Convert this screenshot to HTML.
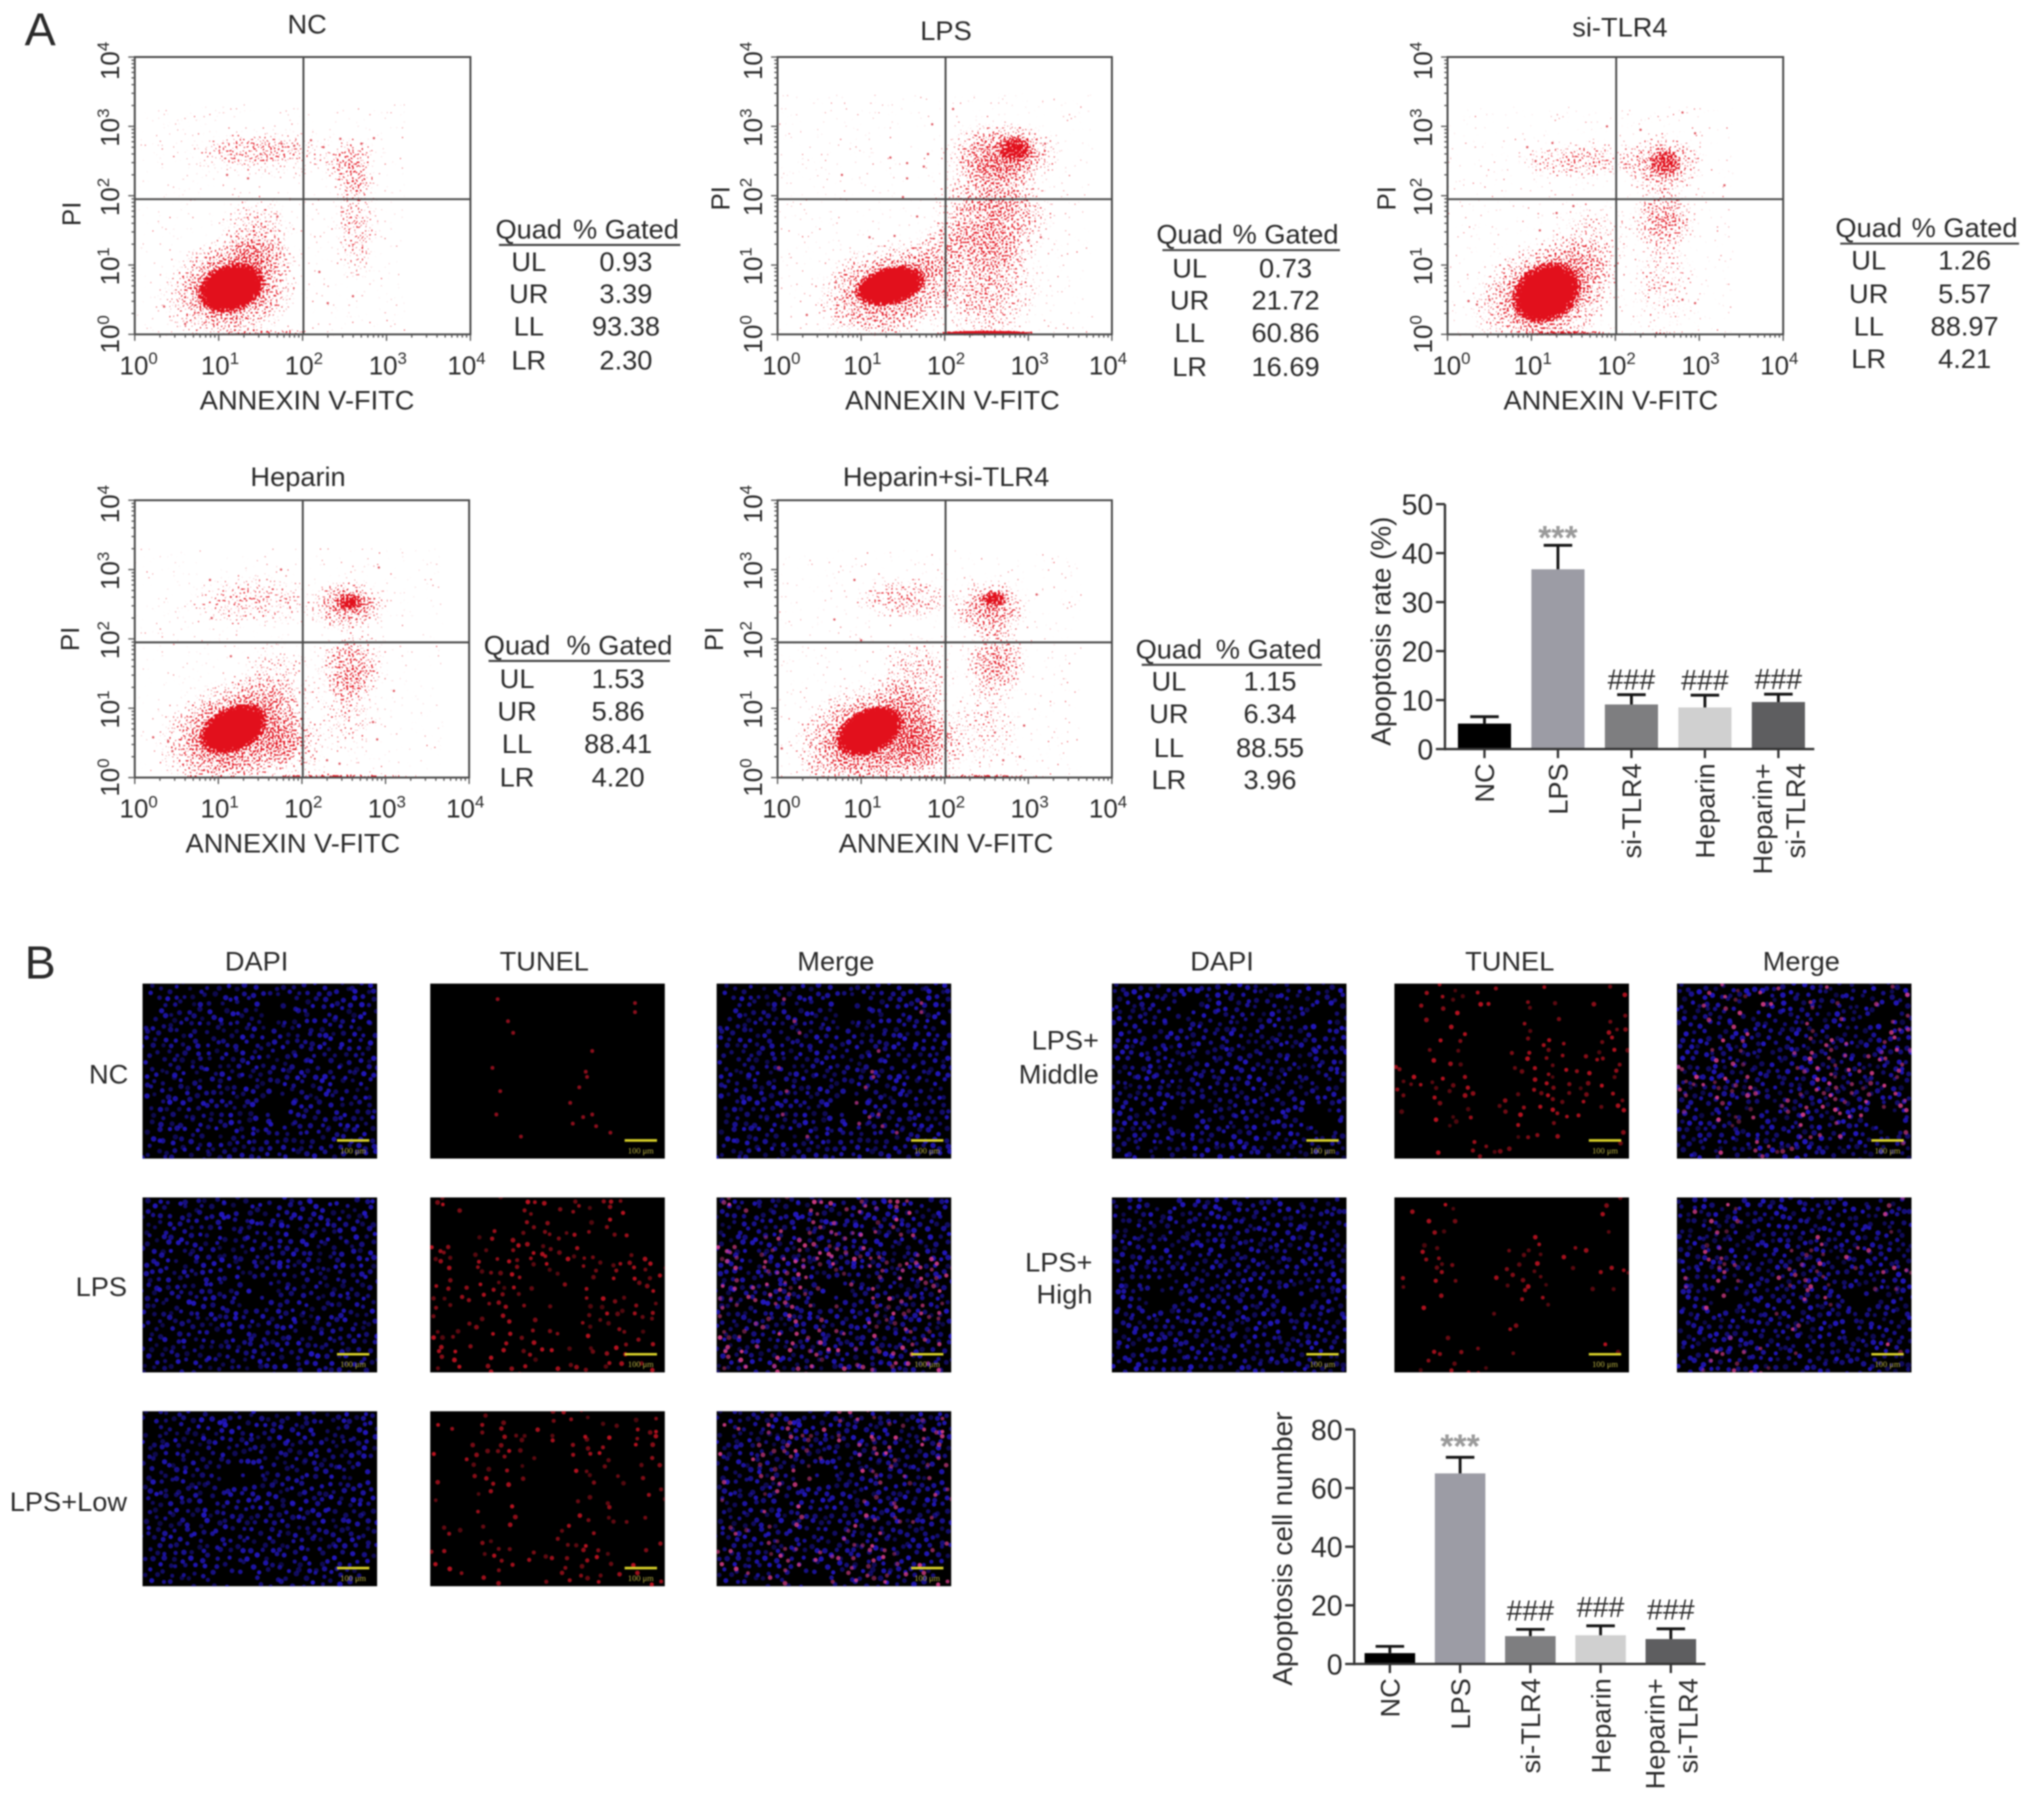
<!DOCTYPE html>
<html lang="en">
<head>
<meta charset="utf-8">
<title>Apoptosis flow cytometry and TUNEL figure</title>
<style>
html,body{margin:0;padding:0;background:#fff;}
svg{display:block;filter:blur(.7px);}
text{font-family:"Liberation Sans",sans-serif;fill:#2a2a2a;}
</style>
</head>
<body>
<svg id="figure" xmlns="http://www.w3.org/2000/svg" width="2032" height="1802" viewBox="0 0 1568 1390.5">
<defs>
<radialGradient id="cloudFade"><stop offset="0" stop-color="#000" stop-opacity="1"/><stop offset=".5" stop-color="#000" stop-opacity=".7"/><stop offset="1" stop-color="#000" stop-opacity="0"/></radialGradient>
<radialGradient id="coreFade"><stop offset="0" stop-color="#000" stop-opacity="1"/><stop offset=".72" stop-color="#000" stop-opacity="1"/><stop offset="1" stop-color="#000" stop-opacity=".2"/></radialGradient>
<filter id="speckle" x="-10%" y="-10%" width="120%" height="120%" color-interpolation-filters="sRGB">
<feTurbulence type="fractalNoise" baseFrequency=".68" numOctaves="1" seed="7" result="n"/>
<feColorMatrix in="n" type="matrix" values="0 0 0 0 0 0 0 0 0 0 0 0 0 0 0 0 0 0 1.8 -.42" result="na"/>
<feComposite in="na" in2="SourceAlpha" operator="arithmetic" k1="0" k2="1" k3="1" k4="0"/>
<feComponentTransfer result="mask"><feFuncA type="linear" slope="12" intercept="-11"/></feComponentTransfer>
<feFlood flood-color="#e2101c"/>
<feComposite in2="mask" operator="in"/>
</filter>
</defs>

<text x="31" y="35" font-size="36" text-anchor="middle">A</text>
<text x="31" y="755" font-size="36" text-anchor="middle">B</text>

<g id="flow-layer"></g>

<g font-size="21" text-anchor="middle">
<text x="237" y="26">NC</text>
<text x="730" y="31">LPS</text>
<text x="1250" y="28">si-TLR4</text>
<text x="230" y="375">Heparin</text>
<text x="730" y="375">Heparin+si-TLR4</text>
</g>

<g font-size="21" text-anchor="middle">
<text x="408" y="184">Quad</text><text x="483" y="184">% Gated</text>
<line x1="385" y1="189" x2="525" y2="189" stroke="#444" stroke-width="1.6"/>
<text x="408" y="209">UL</text><text x="483" y="209">0.93</text>
<text x="408" y="234">UR</text><text x="483" y="234">3.39</text>
<text x="408" y="259">LL</text><text x="483" y="259">93.38</text>
<text x="408" y="285">LR</text><text x="483" y="285">2.30</text>
</g>
<g font-size="21" text-anchor="middle">
<text x="918" y="188">Quad</text><text x="992" y="188">% Gated</text>
<line x1="897" y1="193" x2="1034" y2="193" stroke="#444" stroke-width="1.6"/>
<text x="918" y="214">UL</text><text x="992" y="214">0.73</text>
<text x="918" y="239">UR</text><text x="992" y="239">21.72</text>
<text x="918" y="264">LL</text><text x="992" y="264">60.86</text>
<text x="918" y="290">LR</text><text x="992" y="290">16.69</text>
</g>
<g font-size="21" text-anchor="middle">
<text x="1442" y="183">Quad</text><text x="1516" y="183">% Gated</text>
<line x1="1420" y1="188" x2="1558" y2="188" stroke="#444" stroke-width="1.6"/>
<text x="1442" y="208">UL</text><text x="1516" y="208">1.26</text>
<text x="1442" y="234">UR</text><text x="1516" y="234">5.57</text>
<text x="1442" y="259">LL</text><text x="1516" y="259">88.97</text>
<text x="1442" y="284">LR</text><text x="1516" y="284">4.21</text>
</g>
<g font-size="21" text-anchor="middle">
<text x="399" y="505">Quad</text><text x="478" y="505">% Gated</text>
<line x1="377" y1="510" x2="517" y2="510" stroke="#444" stroke-width="1.6"/>
<text x="399" y="531">UL</text><text x="477" y="531">1.53</text>
<text x="399" y="556">UR</text><text x="477" y="556">5.86</text>
<text x="399" y="581">LL</text><text x="477" y="581">88.41</text>
<text x="399" y="607">LR</text><text x="477" y="607">4.20</text>
</g>
<g font-size="21" text-anchor="middle">
<text x="902" y="508">Quad</text><text x="979" y="508">% Gated</text>
<line x1="881" y1="513" x2="1020" y2="513" stroke="#444" stroke-width="1.6"/>
<text x="902" y="533">UL</text><text x="980" y="533">1.15</text>
<text x="902" y="558">UR</text><text x="980" y="558">6.34</text>
<text x="902" y="584">LL</text><text x="980" y="584">88.55</text>
<text x="902" y="609">LR</text><text x="980" y="609">3.96</text>
</g>

<g id="bar-layer"></g>

<g font-size="21.5" text-anchor="middle">
<text transform="translate(1073,487) rotate(-90)">Apoptosis rate (%)</text>
<text transform="translate(997,1195) rotate(-90)">Apoptosis cell number</text>
</g>

<g font-size="21" text-anchor="middle">
<text x="198" y="749">DAPI</text>
<text x="420" y="749">TUNEL</text>
<text x="645" y="749">Merge</text>
<text x="943" y="749">DAPI</text>
<text x="1165" y="749">TUNEL</text>
<text x="1390" y="749">Merge</text>
</g>
<g font-size="21" text-anchor="end">
<text x="99" y="836">NC</text>
<text x="98" y="1000">LPS</text>
<text x="98" y="1166">LPS+Low</text>
<text x="848" y="810">LPS+</text>
<text x="848" y="836">Middle</text>
<text x="843" y="981">LPS+</text>
<text x="843" y="1006">High</text>
</g>

<g id="image-layer"></g>

<script>
/* ---------- Flow cytometry values, in log10 decades ---------- */
const flowExponents = [0, 1, 2, 3, 4];
const minorDecadeFactors = [2, 3, 4, 5, 6, 7, 8, 9];
const gateLogX = 2.01;
const gateLogY = 1.95;

const ncPopX = [1.15, 1.15, 1.62, 2.59, 1.47, 2.64, 1.47, 1.6];
const ncPopY = [0.67, 0.67, 0.03, 2.42, 2.67, 1.6, 1.4, 2.6];
const ncPopRx = [0.36, 0.72, 0.9, 0.27, 0.6, 0.24, 0.38, 1.0];
const ncPopRy = [0.30, 0.66, 0.04, 0.38, 0.22, 0.75, 0.55, 0.3];
const ncPopTilt = [-20, -15, 0, 0, 0, 0, 0, 0];
const ncPopDensity = [1, .5, .35, .3, .16, .26, .27, .16];
const ncEventX = [1.1, 1.35, 1.5, 1.75, 1.9, 2.1, 2.25, 2.45, 2.7, 2.85, 1.7, 1.85, 2.2, 2.3, 2.6, 0.35, 0.6];
const ncEventY = [2.3, 2.25, 2.6, 2.75, 2.72, 2.8, 2.7, 2.82, 2.75, 2.83, 1.7, 1.95, 0.9, 0.45, 0.55, 0.4, 0.15];

const lpsPopX = [1.35, 1.3, 2.5, 2.85, 2.7, 2.57, 2.49, 1.9];
const lpsPopY = [0.70, 0.62, 0.02, 2.67, 2.62, 1.76, 0.7, 1.2];
const lpsPopRx = [0.38, 0.75, 0.6, 0.18, 0.60, 0.62, 0.58, 0.4];
const lpsPopRy = [0.24, 0.62, 0.035, 0.17, 0.40, 0.75, 0.75, 0.35];
const lpsPopTilt = [-14, -14, 0, 0, 0, 0, 0, -35];
const lpsPopDensity = [1, .46, 1, .7, .46, .4, .3, .24];
const lpsEventX = [0.77, 0.35, 0.7, 1.35, 1.55, 1.75, 1.8, 1.55, 1.5, 1.67, 1.95, 1.85, 2.1, 3.0, 3.15, 3.2, 1.1, 1.4];
const lpsEventY = [2.30, 0.28, 0.75, 2.55, 2.47, 2.42, 2.6, 2.25, 1.98, 1.7, 1.5, 3.03, 3.25, 1.35, 1.4, 2.75, 1.4, 1.42];

const tlrPopX = [1.18, 1.18, 1.45, 2.6, 2.6, 2.55, 1.55, 2.57, 2.55, 1.7];
const tlrPopY = [0.60, 0.58, 0.02, 0.02, 2.48, 2.45, 2.5, 1.66, 0.75, 1.3];
const tlrPopRx = [0.38, 0.78, 0.6, 0.4, 0.18, 0.44, 0.62, 0.34, 0.34, 0.45];
const tlrPopRy = [0.36, 0.66, 0.035, 0.03, 0.18, 0.38, 0.25, 0.42, 0.6, 0.55];
const tlrPopTilt = [-30, -20, 0, 0, 0, 0, 0, 0, 0, 0];
const tlrPopDensity = [1, .5, .6, .35, .5, .38, .28, .38, .2, .2];
const tlrEventX = [0.25, 0.35, 0.5, 0.95, 1.05, 1.25, 1.9, 2.3, 2.8, 2.95, 3.3, 2.8, 2.95, 1.1, 1.3, 1.5];
const tlrEventY = [0.48, 0.43, 0.5, 2.7, 2.5, 2.76, 3.0, 2.95, 3.2, 2.9, 2.15, 0.5, 0.45, 1.5, 1.75, 1.85];

const hepPopX = [1.18, 1.18, 2.4, 2.57, 2.55, 1.41, 2.6, 2.55, 1.7, 1.9];
const hepPopY = [0.70, 0.62, 0.02, 2.53, 2.48, 2.55, 1.6, 0.95, 1.35, 0.45];
const hepPopRx = [0.38, 0.8, 0.95, 0.15, 0.42, 0.68, 0.36, 0.33, 0.45, 0.35];
const hepPopRy = [0.28, 0.68, 0.03, 0.11, 0.34, 0.32, 0.45, 0.55, 0.55, 0.42];
const hepPopTilt = [-25, -20, 0, 0, 0, 0, 0, 0, 0, 0];
const hepPopDensity = [1, .52, .55, .65, .42, .25, .37, .2, .2, .28];
const hepEventX = [0.22, 0.4, 0.45, 0.9, 0.92, 1.15, 1.75, 2.92, 3.1, 2.85, 2.9, 2.3, 2.45];
const hepEventY = [0.58, 0.52, 0.38, 2.85, 2.3, 1.75, 3.0, 3.03, 1.25, 0.8, 0.55, 0.25, 0.2];

const comboPopX = [1.1, 1.12, 2.35, 2.59, 2.55, 1.53, 2.61, 1.65, 2.45, 1.8];
const comboPopY = [0.67, 0.58, 0.02, 2.58, 2.42, 2.58, 1.66, 1.4, 0.75, 0.45];
const comboPopRx = [0.38, 0.82, 0.95, 0.15, 0.40, 0.55, 0.34, 0.42, 0.38, 0.4];
const comboPopRy = [0.28, 0.68, 0.03, 0.10, 0.38, 0.28, 0.45, 0.55, 0.55, 0.45];
const comboPopTilt = [-25, -15, 0, 0, 0, 0, 0, 0, 0, 0];
const comboPopDensity = [1, .52, .55, .72, .42, .28, .38, .26, .18, .3];
const comboEventX = [0.05, 0.38, 0.4, 0.55, 0.68, 1.0, 0.92, 3.1, 2.9, 2.6, 2.95, 2.7];
const comboEventY = [0.42, 0.2, 0.5, 0.3, 2.28, 1.98, 2.85, 2.64, 0.3, 0.65, 0.75, 0.25];

/* ---------- Bar chart values ---------- */
const barCategories = ['NC', 'LPS', 'si-TLR4', 'Heparin', 'Heparin+ si-TLR4'];
const rateTicks = [0, 10, 20, 30, 40, 50];
const rateValues = [5.2, 36.7, 9.1, 8.5, 9.6];
const rateErrors = [1.4, 4.9, 2.0, 2.5, 1.6];
const rateMarkers = ['', '***', '###', '###', '###'];
const cellTicks = [0, 20, 40, 60, 80];
const cellValues = [3.7, 65, 9.5, 9.8, 8.5];
const cellErrors = [2.3, 5.5, 2.3, 3.2, 3.5];
const cellMarkers = ['', '***', '###', '###', '###'];

/* ---------- Drawing ---------- */
const NS = 'http://www.w3.org/2000/svg';
function mk(tag, parent, attrs) {
  const el = document.createElementNS(NS, tag);
  for (const k in attrs) el.setAttribute(k, attrs[k]);
  parent.appendChild(el);
  return el;
}
function named(el, name) {
  
  
  return el;
}
function powerLabel(parent, exp, attrs, name) {
  const t = named(mk('text', parent, Object.assign({'font-size': 20, 'text-anchor': 'middle'}, attrs)), name);
  const base = mk('tspan', t, {});
  base.textContent = '10';
  const sup = mk('tspan', t, {dy: -8, 'font-size': 13});
  sup.textContent = String(exp);
  return t;
}

const cloudSpread = 1.25;
const coreSpread = 1.15;
function drawFlow(slug, box, popX, popY, popRx, popRy, popTilt, popDensity, evX, evY) {
  const root = document.getElementById('flow-layer');
  const g = named(mk('g', root, {}), 'flow-plot-' + slug);
  const sx = v => box.left + v * (box.right - box.left) / 4;
  const sy = v => box.bottom - v * (box.bottom - box.top) / 4;
  const clipId = 'clip-' + slug;
  const clip = mk('clipPath', g, {id: clipId});
  mk('rect', clip, {x: box.left, y: box.top - 1, width: box.right - box.left, height: box.bottom - box.top + 2});

  const cells = named(mk('g', g, {'clip-path': 'url(#' + clipId + ')'}), 'event-populations');
  const cloud = mk('g', cells, {filter: 'url(#speckle)'});
  popX.forEach((x, i) => {
    const cx = sx(x), cy = sy(popY[i]);
    const solid = popDensity[i] === 1;
    const strip = popRy[i] < 0.05;
    const spread = strip ? 1 : solid ? coreSpread : cloudSpread;
    const e = mk('ellipse', cloud, {cx: cx, cy: cy, rx: spread * popRx[i] * (box.right - box.left) / 4, ry: spread * popRy[i] * (box.bottom - box.top) / 4,
      fill: solid ? 'url(#coreFade)' : 'url(#cloudFade)', 'fill-opacity': popDensity[i], transform: 'rotate(' + popTilt[i] + ' ' + cx + ' ' + cy + ')'});
    named(e, 'population-' + i);
  });
  evX.forEach((x, i) => {
    const c = mk('circle', cells, {cx: sx(x), cy: sy(evY[i]), r: 0.9, fill: '#d8303c', 'fill-opacity': .85});
    named(c, 'event-point');
  });

  const axes = named(mk('g', g, {stroke: '#4a4a4a', 'stroke-width': 1.5, fill: 'none'}), 'plot-frame');
  mk('rect', axes, {x: box.left, y: box.top, width: box.right - box.left, height: box.bottom - box.top});
  named(mk('line', axes, {x1: sx(gateLogX), x2: sx(gateLogX), y1: box.top, y2: box.bottom}), 'gate-line-vertical');
  named(mk('line', axes, {x1: box.left, x2: box.right, y1: sy(gateLogY), y2: sy(gateLogY)}), 'gate-line-horizontal');

  const ticks = named(mk('g', g, {stroke: '#555', 'stroke-width': 1}), 'axis-ticks');
  flowExponents.forEach(exp => {
    mk('line', ticks, {x1: sx(exp), x2: sx(exp), y1: box.bottom, y2: box.bottom + 5});
    mk('line', ticks, {x1: box.left - 5, x2: box.left, y1: sy(exp), y2: sy(exp)});
    if (exp < 4) minorDecadeFactors.forEach(f => {
      const m = exp + Math.log10(f);
      mk('line', ticks, {x1: sx(m), x2: sx(m), y1: box.bottom, y2: box.bottom + 2.5});
      mk('line', ticks, {x1: box.left - 2.5, x2: box.left, y1: sy(m), y2: sy(m)});
    });
    const edgeNudge = exp === 0 ? 3 : exp === 4 ? -3 : 1;
    powerLabel(g, exp, {x: sx(exp) + edgeNudge, y: box.bottom + 31}, 'x-tick-label-' + exp);
    const yLift = exp === 4 ? 3 : exp === 0 ? 0 : 1;
    powerLabel(g, exp, {transform: 'translate(' + (box.left - 12) + ',' + (sy(exp) + yLift) + ') rotate(-90)'}, 'y-tick-label-' + exp);
  });

  const xt = named(mk('text', g, {x: box.xTitle, y: box.bottom + 58, 'font-size': 21, 'text-anchor': 'middle'}), 'x-axis-title');
  xt.textContent = 'ANNEXIN V-FITC';
  const yt = named(mk('text', g, {transform: 'translate(' + box.yTitleX + ',' + box.yTitleY + ') rotate(-90)', 'font-size': 20, 'text-anchor': 'middle'}), 'y-axis-title');
  yt.textContent = 'PI';
}

drawFlow('nc', {left: 104, right: 363, top: 44, bottom: 258, xTitle: 237, yTitleX: 62, yTitleY: 165}, ncPopX, ncPopY, ncPopRx, ncPopRy, ncPopTilt, ncPopDensity, ncEventX, ncEventY);
drawFlow('lps', {left: 600, right: 858, top: 44, bottom: 258, xTitle: 735, yTitleX: 563, yTitleY: 153}, lpsPopX, lpsPopY, lpsPopRx, lpsPopRy, lpsPopTilt, lpsPopDensity, lpsEventX, lpsEventY);
drawFlow('si-tlr4', {left: 1117, right: 1376, top: 44, bottom: 258, xTitle: 1243, yTitleX: 1077, yTitleY: 153}, tlrPopX, tlrPopY, tlrPopRx, tlrPopRy, tlrPopTilt, tlrPopDensity, tlrEventX, tlrEventY);
drawFlow('heparin', {left: 104, right: 362, top: 386, bottom: 600, xTitle: 226, yTitleX: 61, yTitleY: 493}, hepPopX, hepPopY, hepPopRx, hepPopRy, hepPopTilt, hepPopDensity, hepEventX, hepEventY);
drawFlow('heparin-si-tlr4', {left: 600, right: 858, top: 386, bottom: 600, xTitle: 730, yTitleX: 558, yTitleY: 493}, comboPopX, comboPopY, comboPopRx, comboPopRy, comboPopTilt, comboPopDensity, comboEventX, comboEventY);

const barFills = ['#000000', '#9c9ca5', '#7e7e80', '#d0d0d0', '#5e5e60'];

function drawBars(slug, box, ticksList, values, errors, markers) {
  const root = document.getElementById('bar-layer');
  const g = named(mk('g', root, {}), 'bar-chart-' + slug);
  const maxTick = ticksList[ticksList.length - 1];
  const sy = v => box.zero - v * (box.zero - box.top) / maxTick;
  const sx = i => box.first + i * box.step;
  values.forEach((v, i) => {
    const bar = named(mk('rect', g, {x: sx(i) - box.barW / 2, y: sy(v), width: box.barW, height: box.zero - sy(v), fill: barFills[i]}), 'bar-' + barCategories[i].replace(/[^A-Za-z0-9]+/g, '-').toLowerCase());
    bar.setAttribute('data-value', v);
    const top = sy(v + errors[i]);
    named(mk('line', g, {x1: sx(i), x2: sx(i), y1: sy(v), y2: top, stroke: '#151515', 'stroke-width': 2.2}), 'error-bar-stem');
    named(mk('line', g, {x1: sx(i) - 11, x2: sx(i) + 11, y1: top, y2: top, stroke: '#151515', 'stroke-width': 2.2}), 'error-bar-cap');
    if (markers[i]) {
      const star = markers[i] === '***';
      const m = named(mk('text', g, {x: sx(i), y: star ? top + box.starShift : top + box.hashShift, 'font-size': star ? 26 : 22, 'text-anchor': 'middle', style: 'fill:' + (star ? '#9a9a9a' : '#2a2a2a') + (star ? ';font-weight:bold' : '')}), 'significance-marker');
      m.textContent = markers[i];
    }
    named(mk('line', g, {x1: sx(i), x2: sx(i), y1: box.zero, y2: box.zero + 7, stroke: '#333', 'stroke-width': 1.8}), 'x-tick');
    const parts = barCategories[i].split(' ');
    parts.forEach((p, k) => {
      const off = parts.length > 1 ? (k === 0 ? -12.5 : 13) : 0;
      const t = named(mk('text', g, {transform: 'translate(' + (sx(i) + 7.5 + off) + ',' + (box.zero + 11) + ') rotate(-90)', 'font-size': 21, 'text-anchor': 'end'}), 'category-label');
      t.textContent = p;
    });
  });
  named(mk('line', g, {x1: box.axisX, x2: box.axisX, y1: box.top, y2: box.zero + .9, stroke: '#333', 'stroke-width': 1.8}), 'y-axis-line');
  named(mk('line', g, {x1: box.axisX, x2: box.right, y1: box.zero, y2: box.zero, stroke: '#333', 'stroke-width': 1.8}), 'x-axis-line');
  ticksList.forEach(v => {
    named(mk('line', g, {x1: box.axisX - 7, x2: box.axisX, y1: sy(v), y2: sy(v), stroke: '#333', 'stroke-width': 1.8}), 'y-tick');
    const t = named(mk('text', g, {x: box.axisX - 9, y: sy(v) + 8, 'font-size': 22, 'text-anchor': 'end'}), 'y-tick-label');
    t.textContent = String(v);
  });
}
drawBars('apoptosis-rate', {zero: 578, top: 389, axisX: 1115, right: 1400, first: 1145.5, step: 56.7, barW: 41, starShift: 3, hashShift: -4}, rateTicks, rateValues, rateErrors, rateMarkers);
drawBars('apoptosis-cell-number', {zero: 1284, top: 1103, axisX: 1045, right: 1316, first: 1072.5, step: 54.2, barW: 39, starShift: 0, hashShift: -7}, cellTicks, cellValues, cellErrors, cellMarkers);

/* ---------- Microscopy images: procedural cell texture on black (photographs, not plotted data) ---------- */
const imageLayer = document.getElementById('image-layer');
const PANEL_W = 181, PANEL_H = 135;
const frac = v => v - Math.floor(v);
const hash = (i, s) => frac(Math.sin(i * 12.9898 + s * 78.233) * 43758.5453);
function cellAt(i, seed) {
  return {
    x: frac(seed * .37 + i * .7548777) * PANEL_W + (hash(i, seed) - .5) * 4,
    y: frac(seed * .61 + i * .5698403) * PANEL_H + (hash(i + 900, seed) - .5) * 4
  };
}
function addNuclei(g, x, y, seed) {
  const clip = 'clip-img-' + x + '-' + y;
  const cp = mk('clipPath', g, {id: clip});
  mk('rect', cp, {x: x, y: y, width: PANEL_W, height: PANEL_H});
  const layer = named(mk('g', g, {'clip-path': 'url(#' + clip + ')', fill: '#2418c8'}), 'nuclei');
  for (let i = 0; i < 600; i++) {
    const c = cellAt(i, seed);
    const patch = Math.sin(c.x * .06 + seed) + Math.sin(c.y * .08 + seed * 2);
    if (patch < -1.7 && hash(i + 77, seed) < .75) continue;
    const dot = mk('circle', layer, {cx: x + c.x, cy: y + c.y, r: 1.5 + hash(i + 300, seed) * .7, 'fill-opacity': .35 + hash(i + 500, seed) * .6});
    named(dot, 'nucleus');
  }
}
function addTunel(g, x, y, seed, cut, tint) {
  const clip = 'clip-red-' + x + '-' + y;
  const cp = mk('clipPath', g, {id: clip});
  mk('rect', cp, {x: x, y: y, width: PANEL_W, height: PANEL_H});
  const layer = named(mk('g', g, {'clip-path': 'url(#' + clip + ')', fill: tint}), 'tunel-positive-cells');
  for (let i = 0; i < 420; i++) {
    const c = cellAt(i, seed);
    const field = Math.sin(c.x * .09 + seed) + Math.sin(c.y * .07 + seed * 2) + Math.sin((c.x + c.y) * .05 + seed);
    if (field * .16 + hash(i + 1200, seed) < cut) continue;
    const dot = mk('circle', layer, {cx: x + c.x, cy: y + c.y, r: 1.4 + hash(i + 1500, seed) * .5, 'fill-opacity': .35 + hash(i + 1700, seed) * .55});
    named(dot, 'tunel-cell');
  }
}
function drawImagePanel(name, x, y, seedBlue, seedRed, redCut, mode, dots) {
  const g = named(mk('g', imageLayer, {}), name);
  mk('rect', g, {x: x, y: y, width: PANEL_W, height: PANEL_H, fill: '#000'});
  if (mode !== 'red') addNuclei(g, x, y, seedBlue);
  if (mode !== 'blue' && redCut < 1) addTunel(g, x, y, seedRed, redCut, mode === 'red' ? '#d01424' : '#e04090');
  (dots || []).forEach(d => {
    const c = mk('circle', g, {cx: x + d[0], cy: y + d[1], r: 1.5, fill: mode === 'red' ? '#8c0e1c' : '#90286c'});
    named(c, 'apoptotic-cell');
  });
  named(mk('line', g, {x1: x + 150, x2: x + 175, y1: y + PANEL_H - 14, y2: y + PANEL_H - 14, stroke: '#d8d028', 'stroke-width': 2}), 'scale-bar');
  const t = named(mk('text', g, {x: x + 162.5, y: y + PANEL_H - 4, 'font-size': 6.5, 'text-anchor': 'middle', style: 'fill:#b8b040;font-family:\'Liberation Serif\',serif'}), 'scale-bar-label');
  t.textContent = '100 μm';
}
const ncTunelDots = [[52,12],[60,29],[64,38],[48,65],[54,83],[51,101],[70,118],[108,92],[115,80],[121,72],[125,101],[110,108],[118,103],[128,110],[139,115],[125,52],[120,68],[158,15],[158,22]];
const imgCols = [110, 332, 553, 858, 1076, 1294];
const imgRows = [759, 924, 1089];
drawImagePanel('dapi-nc', imgCols[0], imgRows[0], 11, 0, 1, 'blue');
drawImagePanel('tunel-nc', imgCols[1], imgRows[0], 0, 0, 1, 'red', ncTunelDots);
drawImagePanel('merge-nc', imgCols[2], imgRows[0], 11, 0, 1, 'both', ncTunelDots);
drawImagePanel('dapi-lps', imgCols[0], imgRows[1], 12, 0, 1, 'blue');
drawImagePanel('tunel-lps', imgCols[1], imgRows[1], 0, 21, .5, 'red');
drawImagePanel('merge-lps', imgCols[2], imgRows[1], 12, 21, .5, 'both');
drawImagePanel('dapi-lps-low', imgCols[0], imgRows[2], 13, 0, 1, 'blue');
drawImagePanel('tunel-lps-low', imgCols[1], imgRows[2], 0, 22, .68, 'red');
drawImagePanel('merge-lps-low', imgCols[2], imgRows[2], 13, 22, .68, 'both');
drawImagePanel('dapi-lps-middle', imgCols[3], imgRows[0], 14, 0, 1, 'blue');
drawImagePanel('tunel-lps-middle', imgCols[4], imgRows[0], 0, 23, .64, 'red');
drawImagePanel('merge-lps-middle', imgCols[5], imgRows[0], 14, 23, .64, 'both');
drawImagePanel('dapi-lps-high', imgCols[3], imgRows[1], 15, 0, 1, 'blue');
drawImagePanel('tunel-lps-high', imgCols[4], imgRows[1], 0, 24, .85, 'red');
drawImagePanel('merge-lps-high', imgCols[5], imgRows[1], 15, 24, .85, 'both');
</script>
</svg>
</body>
</html>
